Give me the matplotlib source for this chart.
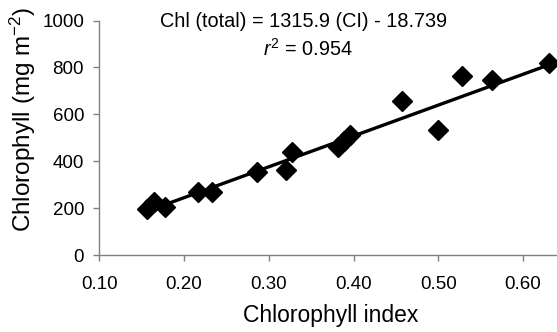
import matplotlib
matplotlib.use("Agg")
import matplotlib.pyplot as plt
import numpy as np

plt.rcParams['font.family'] = ['Liberation Sans', 'DejaVu Sans']
plt.rcParams['mathtext.fontset'] = 'custom'
plt.rcParams['mathtext.rm'] = 'Liberation Sans'
plt.rcParams['mathtext.it'] = 'Liberation Sans:italic'

# Data
chl_index = [0.156, 0.164, 0.178, 0.217, 0.233, 0.286, 0.320, 0.327,
             0.382, 0.389, 0.396, 0.457, 0.500, 0.528, 0.563, 0.630]
chl_total = [196, 226, 205, 270, 270, 355, 362, 440,
             462, 485, 510, 655, 535, 765, 748, 818]
slope = 1315.9
intercept = -18.739
r2 = 0.954

x_ticks = [0.10, 0.20, 0.30, 0.40, 0.50, 0.60]
x_tick_labels = ["0.10", "0.20", "0.30", "0.40", "0.50", "0.60"]
y_ticks = [0, 200, 400, 600, 800, 1000]

fig = plt.figure(figsize=(5.57, 3.32), dpi=100)
ax = fig.add_axes([99.3 / 557, 77 / 332, 457.7 / 557, 234.5 / 332])

xs = np.array([min(chl_index), max(chl_index)])
ax.plot(xs, slope * xs + intercept, color='black', lw=2.4, zorder=2,
        solid_capstyle='butt')
ax.plot(chl_index, chl_total, linestyle='none', marker='D', markersize=10.2,
        color='black', zorder=3, clip_on=False)

ax.set_xlim(0.10, 0.64)
ax.set_ylim(0, 1000)
ax.set_xticks(x_ticks)
ax.set_xticklabels(x_tick_labels)
ax.set_yticks(y_ticks)

for s in ['top', 'right']:
    ax.spines[s].set_visible(False)
for s in ['left', 'bottom']:
    ax.spines[s].set_color('#808080')
    ax.spines[s].set_linewidth(1.0)

ax.tick_params(axis='both', direction='out', length=4.5, width=1.0,
               color='#808080', labelsize=13.5)
ax.tick_params(axis='y', pad=6.5)
ax.tick_params(axis='x', pad=10.5)

fig.text(331 / 557, 10 / 332, "Chlorophyll index", ha='center', va='baseline',
         fontsize=16.5)
fig.text(23 / 557, 1 - 119 / 332, "Chlorophyll (mg m$^{-2}$)", ha='center',
         va='center', rotation=90, fontsize=17.5)

fig.text(304 / 557, 1 - 21.5 / 332, "Chl (total) = 1315.9 (CI) - 18.739",
         ha='center', va='center', fontsize=14.3)
fig.text(308 / 557, 1 - 49 / 332, "$\\mathit{r}^{2}$ = %.3f" % r2,
         ha='center', va='center', fontsize=14.3)

fig.savefig("out.png", dpi=100)
